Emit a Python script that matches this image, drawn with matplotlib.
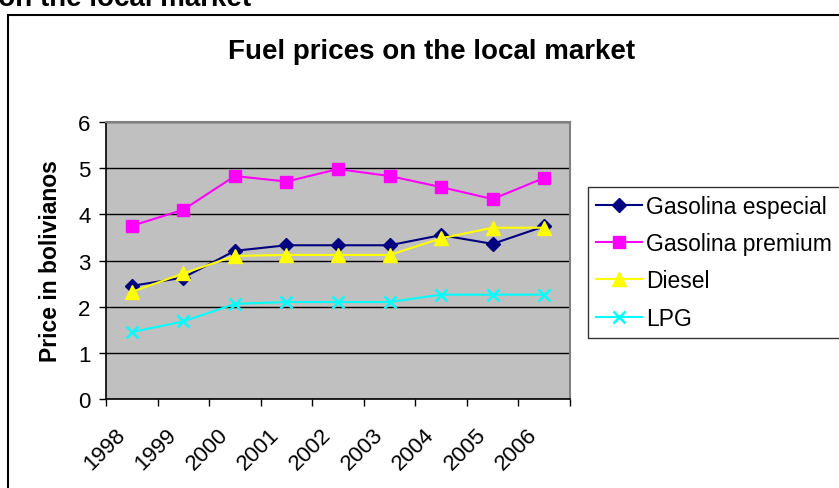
import matplotlib
matplotlib.use("Agg")
import matplotlib.pyplot as plt
import matplotlib.transforms as mtransforms
from matplotlib.patches import Rectangle
import numpy as np

plt.rcParams["font.family"] = ["Liberation Sans", "DejaVu Sans"]

# Data
years = ["1998", "1999", "2000", "2001", "2002", "2003", "2004", "2005", "2006"]
gas_especial = [2.45, 2.63, 3.21, 3.33, 3.33, 3.33, 3.55, 3.36, 3.74]
gas_premium = [3.75, 4.10, 4.83, 4.71, 4.98, 4.83, 4.59, 4.33, 4.79]
diesel = [2.32, 2.72, 3.10, 3.12, 3.12, 3.12, 3.48, 3.71, 3.71]
lpg = [1.45, 1.68, 2.06, 2.10, 2.10, 2.10, 2.26, 2.26, 2.26]
y_ticks = [0, 1, 2, 3, 4, 5, 6]

W, H = 839, 489
fig = plt.figure(figsize=(W / 100, H / 100), dpi=100)

# chart area border (runs off the right and bottom edges)
fig.patches.append(Rectangle((8 / W, -0.05), 1.0, 1 - 16 / H + 0.05,
                             transform=fig.transFigure, fill=False,
                             edgecolor="black", linewidth=1.5))

# caption cut off at the top of the page
fig.text(251 / W, 1 - 6 / H, "Fuel prices on the local market",
         ha="right", va="baseline", fontsize=20, fontweight="bold")

ax = fig.add_axes([106 / W, 1 - 400 / H, 464 / W, 277 / H])
ax.set_facecolor("#c0c0c0")

x = np.arange(len(years))
LW = 1.5
ax.plot(x, gas_especial, color="#000080", lw=LW, marker="D", ms=7,
        label="Gasolina especial", zorder=3)
ax.plot(x, gas_premium, color="#ff00ff", lw=LW, marker="s", ms=8,
        label="Gasolina premium", zorder=3)
ax.plot(x, diesel, color="#ffff00", lw=LW, marker="^", ms=10,
        label="Diesel", zorder=3)
ax.plot(x, lpg, color="#00ffff", lw=LW, marker="x", ms=9, mew=1.8,
        label="LPG", zorder=3)

ax.set_xlim(-0.5, len(years) - 0.5)
ax.set_ylim(0, 6)
ax.set_yticks(y_ticks)
ax.yaxis.grid(True, color="black", linewidth=1.0)
ax.set_axisbelow(True)

# category ticks between years, labels centred on the years
ax.set_xticks(np.arange(len(years) + 1) - 0.5)
ax.set_xticklabels([])
ax.set_xticks(x, minor=True)
ax.set_xticklabels(years, minor=True, rotation=45, ha="right", va="center",
                   rotation_mode="anchor", fontsize=16)
ax.tick_params(axis="x", which="minor", length=0, pad=23)
ax.tick_params(axis="x", which="major", length=5, width=1, direction="out")
ax.tick_params(axis="y", length=5, width=1, direction="out", labelsize=16, pad=6)
for lbl in ax.get_xticklabels(minor=True):
    lbl.set_transform(lbl.get_transform() +
                      mtransforms.ScaledTranslation(-0.10, 0, fig.dpi_scale_trans))

for side in ["top", "right"]:
    ax.spines[side].set_color("#808080")
    ax.spines[side].set_linewidth(1.5)
for side in ["left", "bottom"]:
    ax.spines[side].set_color("black")
    ax.spines[side].set_linewidth(1.2)

ax.set_ylabel("Price in bolivianos", fontsize=16.5, fontweight="bold", labelpad=12)
fig.text(432 / W, 1 - 52 / H, "Fuel prices on the local market",
         ha="center", va="center", fontsize=20, fontweight="bold")

leg = fig.legend(loc="upper left", bbox_to_anchor=(588 / W, 1 - 188 / H),
                 frameon=True, fancybox=False, fontsize=16.5, handlelength=2.0,
                 handletextpad=0.2, labelspacing=0.62, borderpad=0.35,
                 borderaxespad=0)
leg.get_frame().set_edgecolor("black")
leg.get_frame().set_linewidth(1.0)

fig.savefig("out.png", dpi=100)
